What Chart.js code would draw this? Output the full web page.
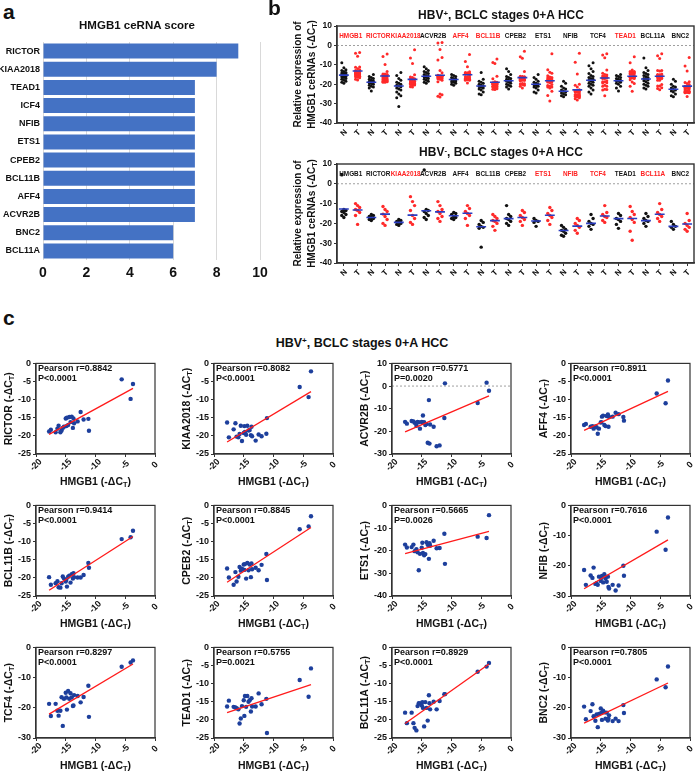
<!DOCTYPE html>
<html>
<head>
<meta charset="utf-8">
<title>HMGB1 ceRNA</title>
<script src="https://cdn.jsdelivr.net/npm/chart.js@4.4.1/dist/chart.umd.min.js"></script>
<style>
  body { margin: 0; background: #fff; }
  #fig { position: relative; width: 698px; height: 773px; overflow: hidden; font-family: "Liberation Sans", Arial, sans-serif; color: #111; }
  #fig canvas { position: absolute; }
  .txt { position: absolute; font-weight: bold; white-space: nowrap; line-height: 1; z-index: 2; }
  .mid { transform: translate(-50%, -50%); }
  .sup { position: relative; top: -0.45em; font-size: 0.65em; }
</style>
</head>
<body>
<div id="fig">
  <div class="txt" style="left:3px;top:1px;font-size:21px">a</div>
  <div class="txt" style="left:268px;top:-3px;font-size:21px">b</div>
  <div class="txt" style="left:3px;top:307px;font-size:21px">c</div>
  <div class="txt mid" style="left:137px;top:26px;font-size:11.5px">HMGB1 ceRNA score</div>
  <div class="txt mid" style="left:501px;top:15px;font-size:12px">HBV<span class="sup">+</span>, BCLC stages 0+A HCC</div>
  <div class="txt mid" style="left:501px;top:152px;font-size:12px">HBV<span class="sup">-</span>, BCLC stages 0+A HCC</div>
  <div class="txt mid" style="left:362px;top:343px;font-size:12.5px">HBV<span class="sup">+</span>, BCLC stages 0+A HCC</div>
</div>
<script>
// ---- panel a ----
const scoreGenes = ['RICTOR', 'KIAA2018', 'TEAD1', 'ICF4', 'NFIB', 'ETS1', 'CPEB2', 'BCL11B', 'AFF4', 'ACVR2B', 'BNC2', 'BCL11A'];
const scoreValues = [9, 8, 7, 7, 7, 7, 7, 7, 7, 7, 6, 6];

// ---- panel b ----
const bGenes = ['HMGB1', 'RICTOR', 'KIAA2018', 'ACVR2B', 'AFF4', 'BCL11B', 'CPEB2', 'ETS1', 'NFIB', 'TCF4', 'TEAD1', 'BCL11A', 'BNC2'];
const sampleTypes = ['N', 'T'];
const posRedGenes = ['HMGB1', 'RICTOR', 'KIAA2018', 'AFF4', 'BCL11B', 'TEAD1'];
const negRedGenes = ['KIAA2018', 'ETS1', 'NFIB', 'TCF4', 'BCL11A'];

// HBV+ tumour values, same samples as panel c (index 0 = HMGB1)
const hmgb1Tumour = [-17.8, -17.5, -16.7, -16.4, -16.2, -15.9, -15.7, -15.5, -15.3, -15.0, -14.9, -14.8, -14.6, -14.4, -14.2, -14.0, -13.8, -13.7, -13.6, -13.0, -12.5, -12.0, -11.2, -11.1, -5.6, -4.1, -3.7];
const rictorTumour = [-18.8, -18.3, -19.0, -18.0, -17.2, -19.0, -18.5, -17.8, -17.5, -15.2, -17.3, -15.0, -17.0, -14.8, -16.2, -14.7, -17.8, -15.2, -16.5, -16.0, -13.4, -15.5, -15.3, -18.6, -4.4, -9.8, -5.7];
const kiaa2018Tumour = [-16.3, -20.4, -18.2, -16.5, -20.2, -20.4, -19.5, -17.2, -21.4, -19.2, -17.3, -18.9, -19.7, -17.2, -18.5, -18.4, -19.8, -17.5, -20.1, -21.3, -19.6, -20.1, -19.4, -15.1, -6.5, -9.3, -2.2];
const acvr2bTumour = [-15.8, -16.6, -15.4, -15.6, -16.2, -17.5, -15.9, -16.0, -18.8, -15.8, -16.1, -13.0, -16.0, -17.2, -16.8, -25.0, -6.2, -25.4, -17.0, -18.0, -26.6, -26.2, -14.1, 1.2, -7.5, 1.5, -2.1];
const aff4Tumour = [-17.0, -16.7, -17.5, -17.3, -18.0, -17.4, -17.6, -19.4, -18.0, -16.3, -16.2, -14.7, -14.4, -17.0, -17.3, -14.5, -14.1, -17.5, -14.8, -14.7, -13.6, -14.0, -14.8, -15.8, -8.3, -11.0, -4.7];
const bcl11bTumour = [-19.8, -21.9, -21.5, -20.9, -22.6, -22.7, -21.5, -19.6, -20.2, -21.0, -20.5, -22.4, -19.7, -19.4, -21.3, -19.0, -20.2, -18.7, -19.8, -19.9, -19.9, -19.2, -15.9, -17.2, -9.3, -8.8, -7.0];
const cpeb2Tumour = [-17.4, -19.9, -21.9, -18.4, -21.0, -19.7, -17.0, -18.0, -17.5, -16.3, -17.8, -16.2, -20.2, -15.9, -17.9, -16.3, -19.8, -16.0, -17.6, -17.2, -17.9, -16.4, -13.4, -20.6, -6.6, -5.8, -3.0];
const ets1Tumour = [-17.3, -18.6, -18.4, -17.3, -20.2, -19.3, -20.7, -28.6, -21.4, -18.7, -16.5, -21.0, -22.0, -21.5, -16.3, -17.4, -23.6, -16.7, -17.8, -15.6, -18.9, -18.8, -12.5, -25.8, -13.8, -14.4, -4.3];
const nfibTumour = [-21.4, -26.3, -23.2, -24.0, -20.6, -26.0, -25.8, -26.3, -23.6, -25.0, -24.0, -23.4, -25.5, -22.8, -24.2, -25.3, -23.6, -27.0, -27.5, -26.3, -28.2, -26.5, -20.0, -23.3, -8.7, -14.7, -4.0];
const tcf4Tumour = [-18.7, -22.7, -18.7, -21.0, -22.6, -21.0, -16.5, -26.0, -17.0, -15.0, -16.6, -20.6, -14.4, -17.0, -15.2, -16.6, -19.4, -19.2, -15.8, -16.1, -18.2, -16.4, -12.7, -23.0, -6.4, -5.0, -4.3];
const tead1Tumour = [-16.3, -14.7, -16.4, -16.6, -16.8, -17.1, -21.0, -19.6, -16.2, -14.6, -18.9, -13.4, -16.4, -13.4, -15.0, -14.6, -17.7, -14.0, -16.3, -16.3, -12.7, -15.7, -14.2, -23.6, -9.0, -13.6, -5.8];
const bcl11aTumour = [-18.0, -20.9, -18.0, -20.9, -22.2, -22.9, -16.2, -15.4, -15.5, -16.0, -15.1, -16.7, -21.8, -15.1, -16.7, -20.2, -13.2, -15.4, -17.1, -15.0, -17.1, -14.8, -12.9, -12.9, -6.7, -5.3, -4.3];
const bnc2Tumour = [-19.6, -23.8, -21.1, -18.8, -22.8, -24.3, -22.2, -26.4, -22.0, -20.2, -21.6, -24.0, -21.0, -21.5, -23.6, -21.6, -24.2, -23.6, -22.5, -24.4, -23.6, -24.4, -19.1, -21.7, -10.6, -13.2, -6.3];
const posTumour = [hmgb1Tumour, rictorTumour, kiaa2018Tumour, acvr2bTumour, aff4Tumour, bcl11bTumour, cpeb2Tumour, ets1Tumour, nfibTumour, tcf4Tumour, tead1Tumour, bcl11aTumour, bnc2Tumour];

// HBV+ non-tumour values (bGenes order)
const posNormal = [
  [-9.0, -11.5, -12.5, -13.0, -13.5, -14.0, -14.2, -14.5, -14.8, -15.0, -15.2, -15.3, -15.5, -15.7, -16.0, -16.3, -16.5, -17.0, -17.5, -18.0, -18.5, -19.0, -19.5],
  [-15.0, -16.0, -16.5, -17.0, -17.5, -18.0, -18.3, -18.6, -19.0, -19.0, -19.3, -19.6, -20.0, -20.5, -21.0, -21.5, -22.0, -23.5],
  [-14.0, -15.5, -17.0, -18.0, -19.0, -19.5, -20.0, -20.5, -20.9, -21.3, -22.0, -22.5, -23.0, -24.0, -25.0, -26.0, -27.0, -31.5],
  [-11.0, -12.0, -13.0, -13.5, -14.0, -14.5, -15.0, -15.5, -15.9, -16.2, -16.5, -17.0, -17.5, -18.0, -18.5, -19.0, -19.5],
  [-15.0, -15.5, -16.0, -16.5, -17.0, -17.3, -17.6, -18.0, -18.3, -18.7, -19.0, -19.5, -20.0, -20.5],
  [-14.0, -17.5, -18.5, -19.0, -19.5, -20.0, -20.5, -20.9, -21.2, -21.6, -22.0, -22.5, -23.0, -24.0, -25.0, -25.5],
  [-12.0, -13.5, -15.0, -16.0, -16.5, -17.0, -17.5, -18.0, -18.2, -18.5, -19.0, -19.5, -20.0, -20.5, -21.0, -21.5, -22.5],
  [-15.0, -16.5, -17.5, -18.5, -19.0, -19.5, -20.0, -20.3, -20.7, -21.0, -21.5, -22.0, -23.0, -24.0, -24.5],
  [-18.5, -19.5, -21.0, -22.0, -22.5, -23.0, -23.6, -24.0, -24.5, -25.0, -25.5, -26.0, -26.5],
  [-9.0, -10.5, -12.0, -13.5, -14.5, -15.5, -16.0, -16.5, -17.0, -17.5, -18.0, -18.5, -19.0, -19.5, -20.0, -20.5, -21.0, -22.0, -23.0, -24.0, -25.0],
  [-15.0, -15.5, -16.0, -16.5, -17.0, -17.5, -18.0, -18.2, -18.5, -19.0, -19.5, -20.0, -21.0, -22.0, -23.5],
  [-6.5, -11.5, -13.0, -14.0, -14.5, -15.0, -15.5, -16.0, -16.5, -17.0, -17.3, -17.8, -18.2, -18.8, -19.5, -20.0, -20.5, -21.0, -22.0, -22.5],
  [-17.5, -18.5, -20.0, -21.0, -21.5, -22.0, -22.6, -23.0, -23.5, -24.0, -25.0, -26.0, -26.5]
];
const posMedN = [-15.3, -19.0, -20.9, -15.9, -17.6, -20.9, -18.2, -20.0, -23.6, -18.0, -18.2, -17.3, -22.6];
const posMedT = [-13.2, -15.8, -17.5, -15.4, -15.1, -19.0, -16.6, -18.2, -22.9, -16.8, -15.9, -15.9, -21.0];

// HBV- values (bGenes order)
const negNormal = [
  [4.5, -13.0, -13.5, -14.0, -14.5, -15.5, -16.0, -17.0],
  [-15.5, -16.0, -16.5, -17.0, -17.5, -18.0, -18.5],
  [-18.0, -18.5, -19.0, -19.5, -20.0, -20.5, -21.0],
  [7.0, -13.0, -13.5, -14.0, -15.0, -16.0, -17.0, -18.0],
  [-14.5, -15.0, -15.5, -16.5, -17.0, -17.5, -18.0],
  [-18.5, -19.5, -20.5, -21.5, -22.0, -22.5, -32.0],
  [-11.0, -15.5, -16.5, -17.5, -18.0, -19.0, -20.0, -21.0],
  [-17.5, -18.5, -19.0, -19.5, -21.5],
  [-21.0, -22.0, -23.0, -23.5, -24.0, -25.0, -26.0, -26.5],
  [-15.5, -17.5, -19.0, -20.0, -20.5, -21.5, -23.0],
  [-15.0, -16.0, -17.5, -18.0, -19.0, -20.5, -22.5],
  [-15.0, -16.5, -17.5, -18.5, -19.0, -20.0, -21.5],
  [-19.0, -20.5, -21.5, -22.0, -23.0]
];
const negTumour = [
  [-10.0, -11.0, -12.0, -13.0, -13.5, -14.5, -16.0, -20.5],
  [-11.5, -13.0, -14.0, -15.3, -16.5, -18.0, -20.0, -21.0],
  [-6.5, -9.0, -11.0, -13.5, -16.0, -17.5, -19.5, -20.5],
  [-9.0, -11.0, -13.0, -14.0, -15.0, -16.5, -17.5, -19.0],
  [-11.0, -12.5, -14.0, -15.0, -16.0, -17.5, -21.0],
  [-15.5, -16.5, -17.5, -18.5, -19.0, -20.0, -21.5, -23.5],
  [-13.5, -14.5, -16.0, -17.0, -18.0, -19.0, -21.0],
  [-12.0, -13.5, -15.0, -16.0, -17.0, -18.5, -20.5],
  [-17.5, -18.5, -20.0, -21.0, -22.0, -23.5, -25.0],
  [-11.0, -14.5, -15.5, -16.5, -17.0, -18.5, -19.5],
  [-11.5, -14.0, -15.5, -17.0, -18.0, -19.5, -24.0, -28.5],
  [-10.0, -13.0, -14.5, -15.5, -16.5, -17.5, -19.0],
  [-15.0, -18.5, -20.0, -21.0, -22.0, -23.0, -24.0]
];
const negMedN = [-12.7, -17.0, -19.5, -13.6, -16.1, -21.7, -17.6, -18.8, -23.6, -20.0, -17.6, -18.6, -21.5];
const negMedT = [-13.2, -15.3, -15.8, -14.2, -14.9, -18.6, -17.0, -15.9, -21.4, -16.3, -17.5, -15.4, -20.3];

// ---- panel c (genes = bGenes[1..12]) ----
const pearsonR = ['0.8842', '0.8082', '0.5771', '0.8911', '0.9414', '0.8845', '0.5665', '0.7616', '0.8297', '0.5755', '0.8929', '0.7805'];
const pValues = ['P<0.0001', 'P<0.0001', 'P=0.0020', 'P<0.0001', 'P<0.0001', 'P<0.0001', 'P=0.0026', 'P<0.0001', 'P<0.0001', 'P=0.0021', 'P<0.0001', 'P<0.0001'];
const yMin = [-25, -25, -30, -25, -25, -25, -40, -30, -30, -25, -25, -30];
const yMax = [0, 0, 10, 0, 0, 0, 0, 0, 0, 0, 0, 0];
const yStep = [5, 5, 10, 5, 5, 5, 10, 10, 10, 5, 5, 10];
const fitX = [-17.8, -3.7];
const fitStart = [-19.6, -21.7, -20.2, -18.5, -23.4, -21.2, -21.3, -27.6, -22.1, -18.0, -21.0, -25.1];
const fitEnd = [-6.9, -7.8, -4.3, -7.7, -8.6, -6.1, -11.5, -11.4, -5.5, -10.3, -4.6, -11.8];

const FONT = '"Liberation Sans", Arial, sans-serif';
Chart.defaults.font.family = FONT;
Chart.defaults.font.weight = 'bold';
Chart.defaults.color = '#111';
Chart.defaults.animation = false;
Chart.defaults.events = [];
Chart.defaults.plugins.legend.display = false;
Chart.defaults.plugins.tooltip.enabled = false;

const fig = document.getElementById('fig');
function makeCanvas(left, top, w, h) {
  const c = document.createElement('canvas');
  c.width = w; c.height = h;
  c.style.left = left + 'px'; c.style.top = top + 'px';
  c.style.width = w + 'px'; c.style.height = h + 'px';
  fig.appendChild(c);
  return c;
}

// text with a subscript part, centred on (x, y), optionally rotated
function drawParts(ctx, parts, x, y, size, angle) {
  ctx.save();
  ctx.translate(x, y);
  ctx.rotate(angle);
  const big = 'bold ' + size + 'px ' + FONT;
  const small = 'bold ' + (size * 0.7) + 'px ' + FONT;
  let w = 0;
  parts.forEach(p => { ctx.font = p[1] ? small : big; w += ctx.measureText(p[0]).width; });
  let cx = -w / 2;
  ctx.textBaseline = 'middle';
  ctx.textAlign = 'left';
  ctx.fillStyle = '#111';
  parts.forEach(p => {
    ctx.font = p[1] ? small : big;
    ctx.fillText(p[0], cx, p[1] ? size * 0.3 : 0);
    cx += ctx.measureText(p[0]).width;
  });
  ctx.restore();
}
function ctLabel(name) {
  return [[name + ' (-\u0394C', false], ['T', true], [')', false]];
}

// x tick labels turned 45 degrees around their centre, under each tick
function slantedTicks(chart, fmt, size, offset) {
  const xs = chart.scales.x, ctx = chart.ctx, b = chart.chartArea.bottom;
  ctx.save();
  ctx.font = 'bold ' + size + 'px ' + FONT;
  ctx.fillStyle = '#111';
  ctx.textAlign = 'center';
  ctx.textBaseline = 'middle';
  xs.ticks.forEach(t => {
    ctx.save();
    ctx.translate(xs.getPixelForValue(t.value), b + offset);
    ctx.rotate(-Math.PI / 4);
    ctx.fillText(fmt(t.value), 0, 0);
    ctx.restore();
  });
  ctx.restore();
}

function zeroLine(chart) {
  const a = chart.chartArea, ctx = chart.ctx;
  const y = chart.scales.y.getPixelForValue(0);
  ctx.save();
  ctx.strokeStyle = '#888';
  ctx.lineWidth = 0.8;
  ctx.setLineDash([2, 2]);
  ctx.beginPath();
  ctx.moveTo(a.left, y);
  ctx.lineTo(a.right, y);
  ctx.stroke();
  ctx.restore();
}
function frame(chart, width) {
  const a = chart.chartArea, ctx = chart.ctx;
  ctx.save();
  ctx.strokeStyle = '#333';
  ctx.lineWidth = width;
  ctx.strokeRect(a.left, a.top, a.right - a.left, a.bottom - a.top);
  ctx.restore();
}

// ---- panel a chart ----
new Chart(makeCanvas(0, 32, 280, 256), {
  type: 'bar',
  data: {
    labels: scoreGenes,
    datasets: [{ data: scoreValues, backgroundColor: '#4472c4', barPercentage: 0.83, categoryPercentage: 1 }]
  },
  options: {
    indexAxis: 'y',
    responsive: false,
    layout: { padding: { top: 10, right: 20, left: 0, bottom: 0 } },
    scales: {
      x: {
        min: 0, max: 10,
        ticks: { stepSize: 2, font: { size: 14 }, padding: 5 },
        grid: { color: '#d9d9d9', drawTicks: false },
        border: { display: false },
        afterFit: s => { s.height = 28; }
      },
      y: {
        ticks: { font: { size: 9 }, padding: 3 },
        grid: { display: false, drawTicks: false },
        border: { display: false },
        afterFit: s => { s.width = 43; }
      }
    }
  }
});

// ---- panel b charts ----
const swarm = [0, -0.15, 0.15];
function spread(vals, col, out) {
  vals.slice().sort((p, q) => p - q).forEach((v, k) => out.push({ x: col + swarm[k % 3], y: v }));
}
function dotPlot(top, height, normal, tumour, medN, medT, redGenes, labelVal, radius) {
  const nDots = [], tDots = [], meds = [], cols = [];
  bGenes.forEach((g, i) => {
    spread(normal[i], 2 * i, nDots);
    spread(tumour[i], 2 * i + 1, tDots);
    meds.push({ x: 2 * i - 0.36, y: medN[i] }, { x: 2 * i + 0.36, y: medN[i] }, { x: 2 * i + 0.5, y: null });
    meds.push({ x: 2 * i + 0.64, y: medT[i] }, { x: 2 * i + 1.36, y: medT[i] }, { x: 2 * i + 1.5, y: null });
    cols.push(2 * i, 2 * i + 1);
  });
  const deco = {
    id: 'decoB',
    beforeDatasetsDraw(chart) { zeroLine(chart); },
    afterDraw(chart) {
      const ctx = chart.ctx, a = chart.chartArea, xs = chart.scales.x, ys = chart.scales.y;
      frame(chart, 1.4);
      slantedTicks(chart, v => sampleTypes[v % 2], 8, 10);
      ctx.save();
      ctx.font = 'bold 6.4px ' + FONT;
      ctx.textAlign = 'center';
      ctx.textBaseline = 'middle';
      bGenes.forEach((g, i) => {
        ctx.fillStyle = redGenes.includes(g) ? '#ff2020' : '#111';
        ctx.fillText(g, xs.getPixelForValue(2 * i + 0.5), ys.getPixelForValue(labelVal));
      });
      ctx.restore();
      const cy = (a.top + a.bottom) / 2;
      drawParts(ctx, [['Relative expression of', false]], a.left - 39, cy, 10, -Math.PI / 2);
      drawParts(ctx, ctLabel('HMGB1 ceRNAs'), a.left - 25, cy, 10, -Math.PI / 2);
    }
  };
  const axisGrid = { drawOnChartArea: false, tickLength: 3, color: '#333' };
  new Chart(makeCanvas(240, top, 458, height), {
    type: 'scatter',
    data: {
      datasets: [
        { data: meds, showLine: true, borderColor: '#2a3cc0', borderWidth: 1.6, pointRadius: 0, spanGaps: false },
        { data: tDots, backgroundColor: '#ff2a2a', pointRadius: radius, borderWidth: 0 },
        { data: nDots, backgroundColor: '#111', pointRadius: radius, borderWidth: 0 }
      ]
    },
    options: {
      responsive: false,
      layout: { padding: { top: 8, left: 75, right: 1, bottom: 0 } },
      scales: {
        x: {
          min: -0.5, max: 25.5,
          afterBuildTicks: s => { s.ticks = cols.map(v => ({ value: v })); },
          ticks: { display: false },
          grid: axisGrid,
          border: { color: '#333', width: 1.4 },
          afterFit: s => { s.height = 20; }
        },
        y: {
          min: -40, max: 10,
          ticks: { stepSize: 10, font: { size: 8.5 }, padding: 2 },
          grid: axisGrid,
          border: { color: '#333', width: 1.4 },
          afterFit: s => { s.width = 22; }
        }
      }
    },
    plugins: [deco]
  });
}
dotPlot(18, 125, posNormal, posTumour, posMedN, posMedT, posRedGenes, 4.5, 1.5);
dotPlot(156, 127, negNormal, negTumour, negMedN, negMedT, negRedGenes, 5, 1.7);

// ---- panel c charts ----
const plotLeft = [36, 214, 392, 571];
const plotTop = [362, 504, 646];
function scatterPanel(k) {
  const gene = bGenes[k + 1];
  const col = k % 4, row = Math.floor(k / 4);
  const pts = hmgb1Tumour.map((x, i) => ({ x: x, y: posTumour[k + 1][i] }));
  const deco = {
    id: 'decoC',
    beforeDatasetsDraw(chart) { if (yMax[k] > 0) zeroLine(chart); },
    afterDraw(chart) {
      const ctx = chart.ctx, a = chart.chartArea;
      frame(chart, 1.2);
      slantedTicks(chart, v => String(v), 9, 11);
      ctx.save();
      ctx.font = 'bold 9px ' + FONT;
      ctx.fillStyle = '#111';
      ctx.textAlign = 'left';
      ctx.textBaseline = 'middle';
      ctx.fillText('Pearson r=' + pearsonR[k], a.left + 2, a.top + 5);
      ctx.fillText(pValues[k], a.left + 2, a.top + 15);
      ctx.restore();
      drawParts(ctx, ctLabel(gene), a.left - 27, (a.top + a.bottom) / 2, 10.5, -Math.PI / 2);
      drawParts(ctx, ctLabel('HMGB1'), (a.left + a.right) / 2, a.bottom + 28, 10.5, 0);
    }
  };
  const axisGrid = { drawOnChartArea: false, tickLength: 3, color: '#333' };
  new Chart(makeCanvas(plotLeft[col] - 36, plotTop[row] - 6, 163, 140), {
    type: 'scatter',
    data: {
      datasets: [
        { data: [{ x: fitX[0], y: fitStart[k] }, { x: fitX[1], y: fitEnd[k] }], showLine: true,
          borderColor: '#ff1a1a', borderWidth: 1.3, pointRadius: 0 },
        { data: pts, backgroundColor: '#1d3f9c', pointRadius: 2.2, borderWidth: 0 }
      ]
    },
    options: {
      responsive: false,
      layout: { padding: { left: 14, top: 6, right: 8, bottom: 18 } },
      scales: {
        x: {
          min: -20, max: 0,
          ticks: { stepSize: 5, display: false },
          grid: axisGrid,
          border: { color: '#333', width: 1.2 },
          afterFit: s => { s.height = 24; }
        },
        y: {
          min: yMin[k], max: yMax[k],
          ticks: { stepSize: yStep[k], font: { size: 9 }, padding: 2 },
          grid: axisGrid,
          border: { color: '#333', width: 1.2 },
          afterFit: s => { s.width = 22; }
        }
      }
    },
    plugins: [deco]
  });
}
for (let k = 0; k < 12; k++) scatterPanel(k);
</script>
</body>
</html>
